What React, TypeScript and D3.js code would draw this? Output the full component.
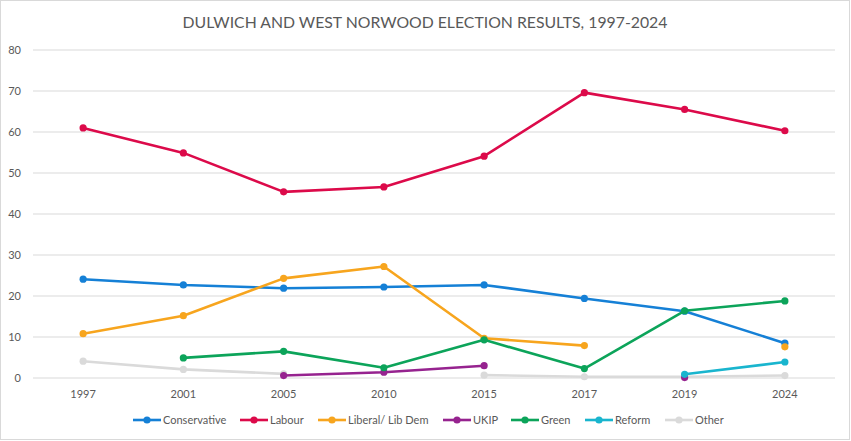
import React from "react";
import * as d3 from "d3";

const years = ["1997", "2001", "2005", "2010", "2015", "2017", "2019", "2024"];
const conservative = [24.1, 22.7, 21.9, 22.2, 22.7, 19.4, 16.3, 8.5];
const labour = [61.0, 54.9, 45.4, 46.6, 54.1, 69.6, 65.5, 60.3];
const libDem: (number | null)[] = [10.8, 15.2, 24.3, 27.2, 9.7, 7.9, null, 7.6];
const ukip: (number | null)[] = [null, null, 0.6, 1.4, 3.0, null, 0.1, null];
const green: (number | null)[] = [null, 4.9, 6.5, 2.5, 9.3, 2.3, 16.4, 18.8];
const reform: (number | null)[] = [null, null, null, null, null, null, 0.9, 3.9];
const other: (number | null)[] = [4.1, 2.1, 1.0, null, 0.7, 0.3, 0.3, 0.6];
const yTicks = [0, 10, 20, 30, 40, 50, 60, 70, 80];

const seriesNames = ["Conservative", "Labour", "Liberal/ Lib  Dem", "UKIP", "Green", "Reform", "Other"];
const seriesValues = [conservative, labour, libDem, ukip, green, reform, other];
const seriesColors = ["#1580D6", "#DC0A4A", "#F7A51E", "#96238F", "#0CA45A", "#19B5CE", "#DADADA"];

const W = 851;
const H = 441;
const font = "Lato, 'Noto Sans', sans-serif";

export default function App() {
  const x = d3.scalePoint<string>().domain(years).range([33, 835]).padding(0.5);
  const y = d3.scaleLinear().domain([0, 80]).range([378, 50]);
  const line = d3
    .line<number | null>()
    .defined((d) => d !== null)
    .x((_, i) => x(years[i]) as number)
    .y((d) => y(d as number));

  const drawOrder = [6, 0, 1, 2, 3, 4, 5];
  const legendX = [133, 240, 318, 443, 511, 585, 665];

  return (
    <div style={{ position: "absolute", left: 0, top: 0 }}>
      <svg width={W} height={H} style={{ display: "block", background: "#fff" }}>
        <rect x={0.5} y={0.5} width={W - 2} height={H - 2} fill="#fff" stroke="#d9d9d9" />
        <text x={425} y={28} textAnchor="middle" fontFamily={font} fontSize={15.8} fill="#595959">
          DULWICH AND WEST NORWOOD ELECTION RESULTS, 1997-2024
        </text>
        {yTicks.map((t) => (
          <g key={t}>
            <line x1={33} x2={835} y1={y(t)} y2={y(t)} stroke="#d9d9d9" strokeWidth={1} />
            <text x={21} y={y(t) + 4} textAnchor="end" fontFamily={font} fontSize={11} fill="#595959">
              {t}
            </text>
          </g>
        ))}
        {years.map((yr) => (
          <text key={yr} x={x(yr)} y={398} textAnchor="middle" fontFamily={font} fontSize={11} fill="#595959">
            {yr}
          </text>
        ))}
        {drawOrder.map((si) => (
          <g key={si}>
            <path d={line(seriesValues[si]) || ""} fill="none" stroke={seriesColors[si]} strokeWidth={2.6} strokeLinejoin="round" />
            {seriesValues[si].map((v, i) =>
              v === null ? null : (
                <circle key={i} cx={x(years[i])} cy={y(v)} r={3.6} fill={seriesColors[si]} />
              )
            )}
          </g>
        ))}
        {seriesNames.map((n, i) => (
          <g key={n}>
            <line x1={legendX[i]} x2={legendX[i] + 28} y1={420} y2={420} stroke={seriesColors[i]} strokeWidth={2.6} />
            <circle cx={legendX[i] + 14} cy={420} r={3.6} fill={seriesColors[i]} />
            <text x={legendX[i] + 30} y={424} fontFamily={font} fontSize={11} fill="#595959">
              {n}
            </text>
          </g>
        ))}
      </svg>
    </div>
  );
}
